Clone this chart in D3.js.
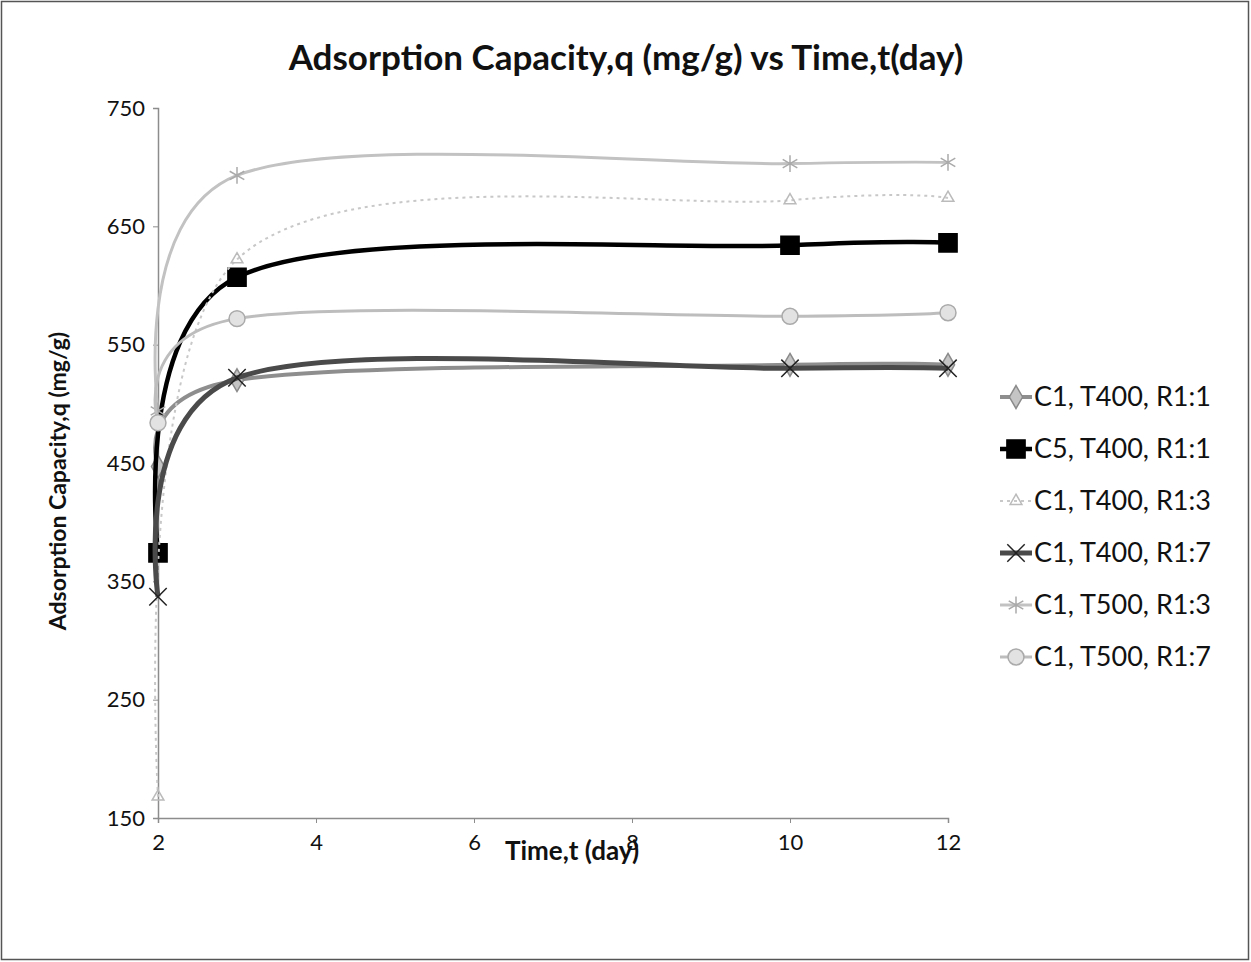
<!DOCTYPE html>
<html>
<head>
<meta charset="utf-8">
<script src="https://cdn.jsdelivr.net/npm/d3@7"></script>
<style>
  body { margin: 0; background: #fff; }
  svg text { font-family: Lato, "Noto Sans", sans-serif; fill: #111; }
</style>
</head>
<body>
<svg id="chart" width="1251" height="962"></svg>
<script>
// data
var days = [2, 3, 10, 12];
var seriesNames = ["C1, T400, R1:1", "C5, T400, R1:1", "C1, T400, R1:3", "C1, T400, R1:7", "C1, T500, R1:3", "C1, T500, R1:7"];
var c1T400R11 = [447, 520, 533, 533];
var c5T400R11 = [374, 607, 634, 636];
var c1T400R13 = [168, 622, 672, 674];
var c1T400R17 = [337, 522, 530, 530];
var c1T500R13 = [494, 693, 703, 704];
var c1T500R17 = [484, 572, 574, 577];
var xTicks = [2, 4, 6, 8, 10, 12];
var yTicks = [150, 250, 350, 450, 550, 650, 750];

var allValues = [c1T400R11, c5T400R11, c1T400R13, c1T400R17, c1T500R13, c1T500R17];

// look of each series
var styles = [
  { color: "#8e8e8e", width: 4, dash: null, sym: d3.symbolDiamond, size: 150, fill: "#c4c4c4", stroke: "#8a8a8a" },
  { color: "#000", width: 4.5, dash: null, sym: d3.symbolSquare, size: 330, fill: "#000", stroke: "#000" },
  { color: "#c8c8c8", width: 2, dash: "3,4", sym: d3.symbolTriangle, size: 60, fill: "none", stroke: "#bbb" },
  { color: "#4a4a4a", width: 5, dash: null, sym: d3.symbolX || d3.symbolCross, size: 200, fill: "none", stroke: "#222" },
  { color: "#c2c2c2", width: 3, dash: null, sym: d3.symbolAsterisk || d3.symbolCross, size: 200, fill: "none", stroke: "#aaa" },
  { color: "#bdbdbd", width: 3, dash: null, sym: d3.symbolCircle, size: 200, fill: "#e2e2e2", stroke: "#aaa" }
];

var svg = d3.select("#chart");

// outer frame
svg.append("rect")
  .attr("x", 1.5).attr("y", 1.5)
  .attr("width", 1247).attr("height", 958)
  .attr("fill", "none").attr("stroke", "#555").attr("stroke-width", 1.5);

var x = d3.scaleLinear().domain([2, 12]).range([158, 948]);
var y = d3.scaleLinear().domain([150, 750]).range([818, 108]);

// axes
var xAxis = svg.append("g")
  .attr("transform", "translate(0," + y(150) + ")")
  .call(d3.axisBottom(x).tickValues(xTicks).tickSize(5).tickPadding(11).tickFormat(d3.format("d")));
var yAxis = svg.append("g")
  .attr("transform", "translate(" + x(2) + ",0)")
  .call(d3.axisLeft(y).tickValues(yTicks).tickSize(5).tickPadding(8).tickFormat(d3.format("d")));

[xAxis, yAxis].forEach(function(a) {
  a.select(".domain").attr("stroke", "#8c8c8c").attr("stroke-width", 1.5);
  a.selectAll(".tick line").attr("stroke", "#8c8c8c");
  a.selectAll(".tick text").style("font-size", "22px").attr("fill", "#111");
});

// titles
svg.append("text")
  .attr("x", 626).attr("y", 70)
  .attr("text-anchor", "middle")
  .style("font-size", "35px").style("font-weight", "bold")
  .text("Adsorption Capacity,q (mg/g) vs Time,t(day)");

svg.append("text")
  .attr("transform", "translate(66,481) rotate(-90)")
  .attr("text-anchor", "middle")
  .style("font-size", "23px").style("font-weight", "bold")
  .text("Adsorption Capacity,q (mg/g)");

svg.append("text")
  .attr("x", 572).attr("y", 860)
  .attr("text-anchor", "middle")
  .style("font-size", "26px").style("font-weight", "bold")
  .text("Time,t (day)");

// smoothed lines like the spreadsheet
var line = d3.line()
  .x(function(d) { return x(d[0]); })
  .y(function(d) { return y(d[1]); })
  .curve(d3.curveCardinal.tension(0));

allValues.forEach(function(vals, i) {
  var st = styles[i];
  var pts = days.map(function(d, j) { return [d, vals[j]]; });
  var g = svg.append("g");
  g.append("path")
    .attr("d", line(pts))
    .attr("fill", "none")
    .attr("stroke", st.color)
    .attr("stroke-width", st.width)
    .attr("stroke-dasharray", st.dash);
  g.selectAll("path.m")
    .data(pts)
    .enter().append("path")
    .attr("class", "m")
    .attr("transform", function(d) { return "translate(" + x(d[0]) + "," + y(d[1]) + ")"; })
    .attr("d", d3.symbol().type(st.sym).size(st.size))
    .attr("fill", st.fill)
    .attr("stroke", st.stroke)
    .attr("stroke-width", 1.5);
});

// legend
var legend = svg.append("g").attr("transform", "translate(1000,397)");
var item = legend.selectAll("g")
  .data(seriesNames)
  .enter().append("g")
  .attr("transform", function(d, i) { return "translate(0," + i * 52 + ")"; });

item.append("line")
  .attr("x1", 0).attr("x2", 32)
  .attr("stroke", function(d, i) { return styles[i].color; })
  .attr("stroke-width", function(d, i) { return styles[i].width; })
  .attr("stroke-dasharray", function(d, i) { return styles[i].dash; });

item.append("path")
  .attr("transform", "translate(16,0)")
  .attr("d", function(d, i) { return d3.symbol().type(styles[i].sym).size(styles[i].size)(); })
  .attr("fill", function(d, i) { return styles[i].fill; })
  .attr("stroke", function(d, i) { return styles[i].stroke; })
  .attr("stroke-width", 1.5);

item.append("text")
  .attr("x", 34).attr("dy", "0.35em")
  .style("font-size", "27px")
  .text(function(d) { return d; });
</script>
</body>
</html>
